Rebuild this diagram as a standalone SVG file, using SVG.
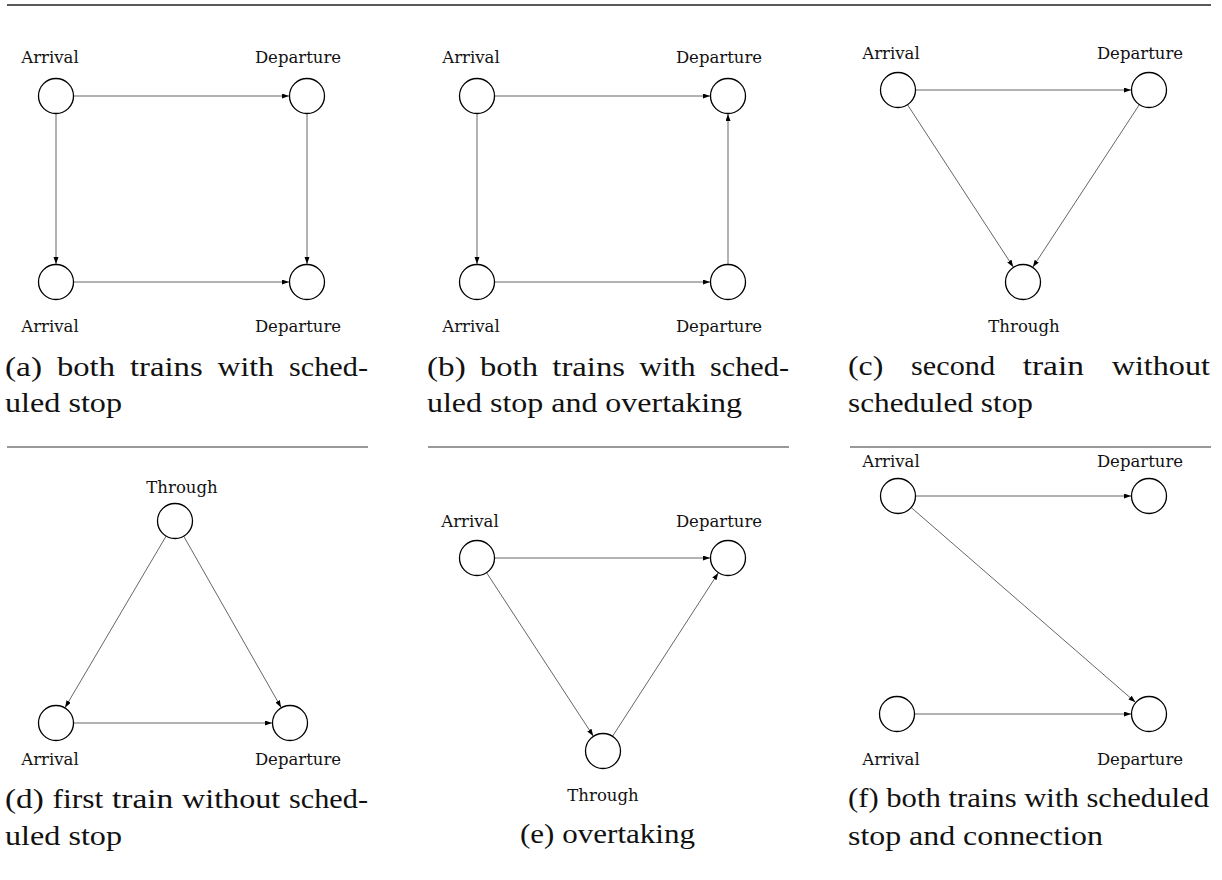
<svg xmlns="http://www.w3.org/2000/svg" width="1222" height="880" viewBox="0 0 1222 880">
<style>
.node{fill:#fff;stroke:#000;stroke-width:1.3}
.lbl{font-family:"DejaVu Serif","Liberation Serif",serif;font-size:16.5px;fill:#111;text-anchor:middle}
.cap text{font-family:"Liberation Serif","DejaVu Serif",serif;font-size:27px;fill:#111}
.edge{stroke:#555;stroke-width:0.9;fill:none;marker-end:url(#arr)}
.rule{stroke:#777;stroke-width:1.5}
</style>
<defs>
<marker id="arr" markerUnits="userSpaceOnUse" markerWidth="8" markerHeight="6" refX="7" refY="2.5" orient="auto">
<path d="M0,0 L7,2.5 L0,5 z" fill="#000"/>
</marker>
</defs>
<rect width="1222" height="880" fill="#fff"/>
<line x1="7" y1="5" x2="1211" y2="5" stroke="#222" stroke-width="1.4"/>
<line class="rule" x1="7" y1="447" x2="368" y2="447"/>
<line class="rule" x1="428" y1="447" x2="789" y2="447"/>
<line class="rule" x1="850" y1="447" x2="1211" y2="447"/>

<g id="connectors">
<line class="edge" x1="73.5" y1="96" x2="289" y2="96"/>
<line class="edge" x1="56" y1="113.5" x2="56" y2="264"/>
<line class="edge" x1="307" y1="113.5" x2="307" y2="264"/>
<line class="edge" x1="73.5" y1="282" x2="289" y2="282"/>
<line class="edge" x1="494.5" y1="96" x2="710" y2="96"/>
<line class="edge" x1="477" y1="113.5" x2="477" y2="264"/>
<line class="edge" x1="494.5" y1="282" x2="710" y2="282"/>
<line class="edge" x1="728" y1="264.5" x2="728" y2="114"/>
<line class="edge" x1="915.5" y1="90" x2="1131" y2="90"/>
<line class="edge" x1="907.5" y1="104.7" x2="1013.2" y2="266.9"/>
<line class="edge" x1="1139.4" y1="104.6" x2="1032.9" y2="267"/>
<line class="edge" x1="166.1" y1="536.1" x2="65.1" y2="707.5"/>
<line class="edge" x1="183.7" y1="536.2" x2="281.1" y2="707.4"/>
<line class="edge" x1="73.5" y1="723" x2="272" y2="723"/>
<line class="edge" x1="494.5" y1="558" x2="710" y2="558"/>
<line class="edge" x1="486.6" y1="572.7" x2="593.2" y2="735.9"/>
<line class="edge" x1="612.5" y1="736.3" x2="718.2" y2="573.1"/>
<line class="edge" x1="915.5" y1="496" x2="1131" y2="496"/>
<line class="edge" x1="911.2" y1="507.5" x2="1135.4" y2="702.2"/>
<line class="edge" x1="914.5" y1="714" x2="1131" y2="714"/>
</g>

<g id="panel-a">
<g id="a-arr1"><circle class="node" cx="56" cy="96" r="17.5"/><text class="lbl" x="50" y="63">Arrival</text></g>
<g id="a-dep1"><circle class="node" cx="307" cy="96" r="17.5"/><text class="lbl" x="298" y="63">Departure</text></g>
<g id="a-arr2"><circle class="node" cx="56" cy="282" r="17.5"/><text class="lbl" x="50" y="332">Arrival</text></g>
<g id="a-dep2"><circle class="node" cx="307" cy="282" r="17.5"/><text class="lbl" x="298" y="332">Departure</text></g>
<g class="cap">
<text x="5" y="376" textLength="37" lengthAdjust="spacingAndGlyphs">(a)</text>
<text x="57" y="376" textLength="58" lengthAdjust="spacingAndGlyphs">both</text>
<text x="130" y="376" textLength="72.7" lengthAdjust="spacingAndGlyphs">trains</text>
<text x="217.5" y="376" textLength="56.4" lengthAdjust="spacingAndGlyphs">with</text>
<text x="289" y="376" textLength="79" lengthAdjust="spacingAndGlyphs">sched-</text>
<text x="5" y="412" textLength="117" lengthAdjust="spacingAndGlyphs">uled stop</text>
</g>
</g>

<g id="panel-b">
<g id="b-arr1"><circle class="node" cx="477" cy="96" r="17.5"/><text class="lbl" x="471" y="63">Arrival</text></g>
<g id="b-dep1"><circle class="node" cx="728" cy="96" r="17.5"/><text class="lbl" x="719" y="63">Departure</text></g>
<g id="b-arr2"><circle class="node" cx="477" cy="282" r="17.5"/><text class="lbl" x="471" y="332">Arrival</text></g>
<g id="b-dep2"><circle class="node" cx="728" cy="282" r="17.5"/><text class="lbl" x="719" y="332">Departure</text></g>
<g class="cap">
<text x="427" y="376" textLength="38.7" lengthAdjust="spacingAndGlyphs">(b)</text>
<text x="480" y="376" textLength="58" lengthAdjust="spacingAndGlyphs">both</text>
<text x="552.3" y="376" textLength="72.7" lengthAdjust="spacingAndGlyphs">trains</text>
<text x="639.3" y="376" textLength="56.4" lengthAdjust="spacingAndGlyphs">with</text>
<text x="710" y="376" textLength="79" lengthAdjust="spacingAndGlyphs">sched-</text>
<text x="427" y="412" textLength="315" lengthAdjust="spacingAndGlyphs">uled stop and overtaking</text>
</g>
</g>

<g id="panel-c">
<g id="c-arr"><circle class="node" cx="898" cy="90" r="17.5"/><text class="lbl" x="891" y="59">Arrival</text></g>
<g id="c-dep"><circle class="node" cx="1149" cy="90" r="17.5"/><text class="lbl" x="1140" y="59">Departure</text></g>
<g id="c-thr"><circle class="node" cx="1023" cy="282" r="17.5"/><text class="lbl" x="1024" y="332">Through</text></g>
<g class="cap">
<text x="848" y="375" textLength="35.4" lengthAdjust="spacingAndGlyphs">(c)</text>
<text x="911.1" y="375" textLength="83.9" lengthAdjust="spacingAndGlyphs">second</text>
<text x="1022.7" y="375" textLength="61.3" lengthAdjust="spacingAndGlyphs">train</text>
<text x="1111.7" y="375" textLength="98.3" lengthAdjust="spacingAndGlyphs">without</text>
<text x="848" y="412" textLength="185" lengthAdjust="spacingAndGlyphs">scheduled stop</text>
</g>
</g>

<g id="panel-d">
<g id="d-thr"><circle class="node" cx="175" cy="521" r="17.5"/><text class="lbl" x="182" y="493">Through</text></g>
<g id="d-arr"><circle class="node" cx="56" cy="723" r="17.5"/><text class="lbl" x="50" y="765">Arrival</text></g>
<g id="d-dep"><circle class="node" cx="290" cy="723" r="17.5"/><text class="lbl" x="298" y="765">Departure</text></g>
<g class="cap">
<text x="5" y="808" textLength="38.7" lengthAdjust="spacingAndGlyphs">(d)</text>
<text x="52.4" y="808" textLength="51" lengthAdjust="spacingAndGlyphs">first</text>
<text x="112" y="808" textLength="61.3" lengthAdjust="spacingAndGlyphs">train</text>
<text x="182" y="808" textLength="98.3" lengthAdjust="spacingAndGlyphs">without</text>
<text x="289" y="808" textLength="79" lengthAdjust="spacingAndGlyphs">sched-</text>
<text x="5" y="845" textLength="117" lengthAdjust="spacingAndGlyphs">uled stop</text>
</g>
</g>

<g id="panel-e">
<g id="e-arr"><circle class="node" cx="477" cy="558" r="17.5"/><text class="lbl" x="470" y="527">Arrival</text></g>
<g id="e-dep"><circle class="node" cx="728" cy="558" r="17.5"/><text class="lbl" x="719" y="527">Departure</text></g>
<g id="e-thr"><circle class="node" cx="603" cy="751" r="17.5"/><text class="lbl" x="603" y="801">Through</text></g>
<g class="cap">
<text x="520" y="843" textLength="175" lengthAdjust="spacingAndGlyphs">(e) overtaking</text>
</g>
</g>

<g id="panel-f">
<g id="f-arr1"><circle class="node" cx="898" cy="496" r="17.5"/><text class="lbl" x="891" y="467">Arrival</text></g>
<g id="f-dep1"><circle class="node" cx="1149" cy="496" r="17.5"/><text class="lbl" x="1140" y="467">Departure</text></g>
<g id="f-arr2"><circle class="node" cx="897" cy="714" r="17.5"/><text class="lbl" x="891" y="765">Arrival</text></g>
<g id="f-dep2"><circle class="node" cx="1149" cy="714" r="17.5"/><text class="lbl" x="1140" y="765">Departure</text></g>
<g class="cap">
<text x="848" y="807" textLength="361" lengthAdjust="spacingAndGlyphs">(f) both trains with scheduled</text>
<text x="848" y="845" textLength="255" lengthAdjust="spacingAndGlyphs">stop and connection</text>
</g>
</g>
</svg>
